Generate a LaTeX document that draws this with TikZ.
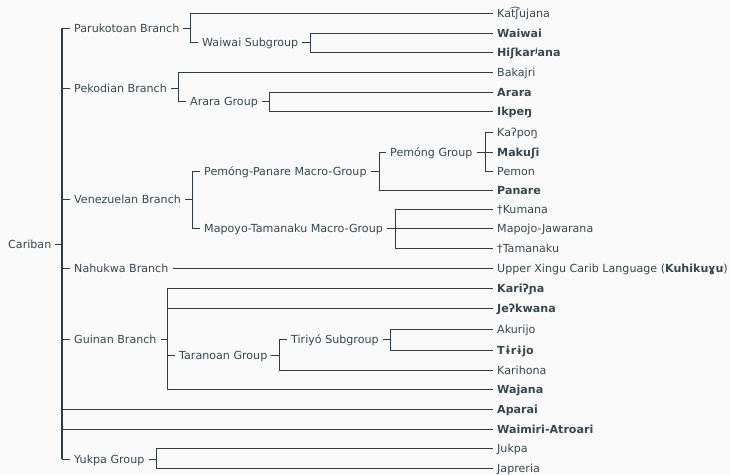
\documentclass[tikz,border=0pt]{standalone}
\usepackage{fontspec}
\setmainfont{DejaVu Sans}
\definecolor{ink}{HTML}{37474F}
\definecolor{edgec}{HTML}{2E3C43}
\definecolor{bg}{HTML}{FAFAFA}
\begin{document}
\begin{tikzpicture}[x=1pt,y=-1pt,
  font=\fontsize{11.1}{13}\selectfont,
  lbl/.style={anchor=west, inner xsep=4pt, inner ysep=0pt, text height=8pt, text depth=0pt, text=ink},
  leaf/.style={lbl},
  edge/.style={draw=edgec, line width=1pt},
  trunk/.style={draw=edgec, line width=2pt}]
\fill[bg] (0,0) rectangle (730,474);
\useasboundingbox (0,0) rectangle (730,474);

% leaves
\node[leaf] (kat) at (493,13) {Kat͡ʃujana};
\node[leaf] (waiwai) at (493,33) {\textbf{Waiwai}};
\node[leaf] (hisk) at (493,52) {\textbf{Hiʃkarʲana}};
\node[leaf] (bak) at (493,72) {Bakajri};
\node[leaf] (arara) at (493,92) {\textbf{Arara}};
\node[leaf] (ikpeng) at (493,111) {\textbf{Ikpeŋ}};
\node[leaf] (kapong) at (493,132) {Kaʔpoŋ};
\node[leaf] (makushi) at (493,152) {\textbf{Makuʃi}};
\node[leaf] (pemon) at (493,171) {Pemon};
\node[leaf] (panare) at (493,190) {\textbf{Panare}};
\node[leaf] (kumana) at (493,209) {†Kumana};
\node[leaf] (mapojo) at (493,228) {Mapojo-Jawarana};
\node[leaf] (tamanaku) at (493,248) {†Tamanaku};
\node[leaf] (xingu) at (493,268) {Upper Xingu Carib Language (\textbf{Kuhikuɣu})};
\node[leaf] (karina) at (493,288) {\textbf{Kariʔɲa}};
\node[leaf] (jekwana) at (493,308) {\textbf{Jeʔkwana}};
\node[leaf] (akurijo) at (493,329) {Akurijo};
\node[leaf] (tirijo) at (493,350) {\textbf{Tɨrɨjo}};
\node[leaf] (karihona) at (493,370) {Karihona};
\node[leaf] (wajana) at (493,389) {\textbf{Wajana}};
\node[leaf] (aparai) at (493,409) {\textbf{Aparai}};
\node[leaf] (waimiri) at (493,429) {\textbf{Waimiri-Atroari}};
\node[leaf] (jukpa) at (493,448) {Jukpa};
\node[leaf] (japreria) at (493,468) {Japreria};

% internal nodes
\node[lbl] (cariban) at (4,244) {Cariban};
\node[lbl] (paru) at (70,28) {Parukotoan Branch};
\node[lbl] (wwsub) at (198,42.5) {Waiwai Subgroup};
\node[lbl] (peko) at (70,88) {Pekodian Branch};
\node[lbl] (ararag) at (186,101.5) {Arara Group};
\node[lbl] (vene) at (70,199.5) {Venezuelan Branch};
\node[lbl] (pempan) at (200,171) {Pemóng-Panare Macro-Group};
\node[lbl] (pemong) at (386,152) {Pemóng Group};
\node[lbl] (mapoyo) at (200,228) {Mapoyo-Tamanaku Macro-Group};
\node[lbl] (nahukwa) at (70,268) {Nahukwa Branch};
\node[lbl] (guinan) at (70,339) {Guinan Branch};
\node[lbl] (taran) at (175,355) {Taranoan Group};
\node[lbl] (tiriyo) at (287,339.5) {Tiriyó Subgroup};
\node[lbl] (yukpa) at (70,459) {Yukpa Group};

% junctions
\coordinate (jroot) at (62,244);
\coordinate (jparu) at (190,28);
\coordinate (jwwsub) at (310,42.5);
\coordinate (jpeko) at (178,88);
\coordinate (jararag) at (269,101.5);
\coordinate (jvene) at (192,199.5);
\coordinate (jpempan) at (379,171);
\coordinate (jpemong) at (485,152);
\coordinate (jmapoyo) at (395,228);
\coordinate (jguinan) at (167,339);
\coordinate (jtaran) at (279,355);
\coordinate (jtiriyo) at (390,339.5);
\coordinate (jyukpa) at (156,459);

% brackets: parent tick, vertical, child lines
\draw[edge] (cariban.east) -- (jroot);
\foreach \c in {paru,peko,vene,nahukwa,guinan,aparai,waimiri,yukpa}
  \draw[edge] (jroot |- \c.west) -- (\c.west);
\draw[trunk] (jroot |- paru.west) -- (jroot |- yukpa.west);

\draw[edge] (paru.east) -- (jparu);
\draw[edge] (jparu |- kat.west) -- (jparu |- wwsub.west);
\foreach \c in {kat,wwsub} \draw[edge] (jparu |- \c.west) -- (\c.west);

\draw[edge] (wwsub.east) -- (jwwsub);
\draw[edge] (jwwsub |- waiwai.west) -- (jwwsub |- hisk.west);
\foreach \c in {waiwai,hisk} \draw[edge] (jwwsub |- \c.west) -- (\c.west);

\draw[edge] (peko.east) -- (jpeko);
\draw[edge] (jpeko |- bak.west) -- (jpeko |- ararag.west);
\foreach \c in {bak,ararag} \draw[edge] (jpeko |- \c.west) -- (\c.west);

\draw[edge] (ararag.east) -- (jararag);
\draw[edge] (jararag |- arara.west) -- (jararag |- ikpeng.west);
\foreach \c in {arara,ikpeng} \draw[edge] (jararag |- \c.west) -- (\c.west);

\draw[edge] (vene.east) -- (jvene);
\draw[edge] (jvene |- pempan.west) -- (jvene |- mapoyo.west);
\foreach \c in {pempan,mapoyo} \draw[edge] (jvene |- \c.west) -- (\c.west);

\draw[edge] (pempan.east) -- (jpempan);
\draw[edge] (jpempan |- pemong.west) -- (jpempan |- panare.west);
\foreach \c in {pemong,panare} \draw[edge] (jpempan |- \c.west) -- (\c.west);

\draw[edge] (pemong.east) -- (jpemong);
\draw[edge] (jpemong |- kapong.west) -- (jpemong |- pemon.west);
\foreach \c in {kapong,makushi,pemon} \draw[edge] (jpemong |- \c.west) -- (\c.west);

\draw[edge] (mapoyo.east) -- (jmapoyo);
\draw[edge] (jmapoyo |- kumana.west) -- (jmapoyo |- tamanaku.west);
\foreach \c in {kumana,mapojo,tamanaku} \draw[edge] (jmapoyo |- \c.west) -- (\c.west);

\draw[edge] (nahukwa.east) -- (xingu.west);

\draw[edge] (guinan.east) -- (jguinan);
\draw[edge] (jguinan |- karina.west) -- (jguinan |- wajana.west);
\foreach \c in {karina,jekwana,taran,wajana} \draw[edge] (jguinan |- \c.west) -- (\c.west);

\draw[edge] (taran.east) -- (jtaran);
\draw[edge] (jtaran |- tiriyo.west) -- (jtaran |- karihona.west);
\foreach \c in {tiriyo,karihona} \draw[edge] (jtaran |- \c.west) -- (\c.west);

\draw[edge] (tiriyo.east) -- (jtiriyo);
\draw[edge] (jtiriyo |- akurijo.west) -- (jtiriyo |- tirijo.west);
\foreach \c in {akurijo,tirijo} \draw[edge] (jtiriyo |- \c.west) -- (\c.west);

\draw[edge] (yukpa.east) -- (jyukpa);
\draw[edge] (jyukpa |- jukpa.west) -- (jyukpa |- japreria.west);
\foreach \c in {jukpa,japreria} \draw[edge] (jyukpa |- \c.west) -- (\c.west);
\end{tikzpicture}
\end{document}
